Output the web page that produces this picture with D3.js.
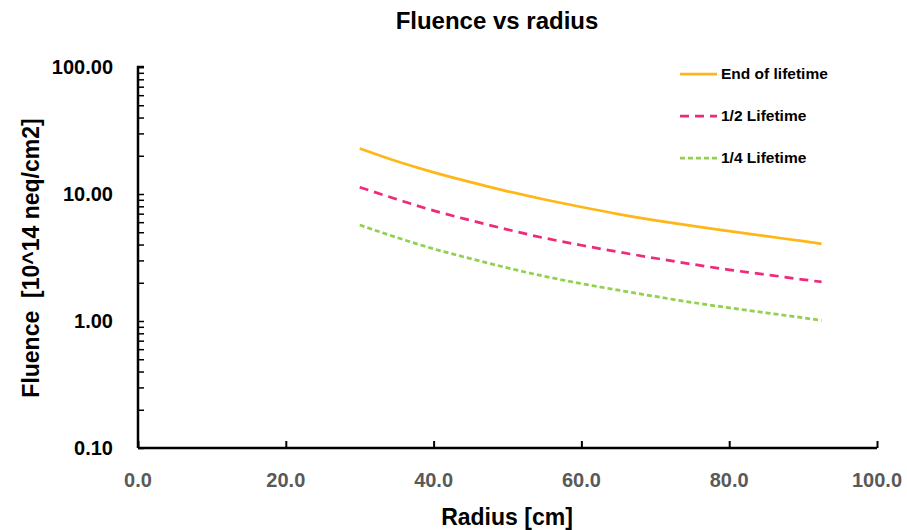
<!DOCTYPE html>
<html>
<head>
<meta charset="utf-8">
<script src="https://cdn.jsdelivr.net/npm/d3@7/dist/d3.min.js"></script>
<style>
  body { margin: 0; background: #fff; }
  text { font-family: "Liberation Sans", Arial, sans-serif; font-weight: bold; }
</style>
</head>
<body>
<svg id="chart" width="907" height="530"></svg>
<script>
// radius values (cm)
var radius = [30, 35, 40, 45, 50, 55, 60, 65, 70, 75, 80, 85, 90, 92.5];
// fluence [10^14 neq/cm2]
var endOfLife = [22.8, 18.1, 14.8, 12.4, 10.5, 9.05, 7.9, 6.95, 6.2, 5.6, 5.1, 4.65, 4.25, 4.05];
var halfLife = [11.3, 9.1, 7.4, 6.2, 5.25, 4.5, 3.95, 3.5, 3.12, 2.8, 2.53, 2.32, 2.12, 2.03];
var quarterLife = [5.7, 4.55, 3.7, 3.1, 2.62, 2.25, 1.97, 1.75, 1.56, 1.4, 1.27, 1.16, 1.06, 1.01];

var seriesNames = ["End of lifetime", "1/2 Lifetime", "1/4 Lifetime"];
var xTicks = [0, 20, 40, 60, 80, 100];
var yTicks = [0.1, 1, 10, 100];

var series = [
  { name: seriesNames[0], values: endOfLife, color: "#FFB619", dash: null },
  { name: seriesNames[1], values: halfLife, color: "#EE2A7B", dash: "9,6" },
  { name: seriesNames[2], values: quarterLife, color: "#92D050", dash: "5,3" }
];

var svg = d3.select("#chart");

// plot area (don't use "top", it is window.top)
var plotLeft = 138, plotRight = 877, plotTop = 67, plotBottom = 448;

var x = d3.scaleLinear().domain([0, 100]).range([plotLeft, plotRight]);
var y = d3.scaleLog().domain([0.1, 100]).range([plotBottom, plotTop]);

// title
svg.append("text")
  .attr("x", 497).attr("y", 29)
  .attr("text-anchor", "middle")
  .style("font-size", "24px")
  .text("Fluence vs radius");

// y axis: ticks inside, minor log ticks too
var minor = [];
[0.1, 1, 10].forEach(function(d) {
  for (var k = 2; k <= 9; k++) minor.push(d * k);
});

var yAxis = svg.append("g")
  .attr("transform", "translate(" + plotLeft + ",0)")
  .call(d3.axisRight(y).tickValues(yTicks.concat(minor)).tickSize(6).tickFormat(""));
yAxis.select(".domain").attr("d", "M0," + plotBottom + "V" + plotTop + "h6");
yAxis.selectAll("line").attr("stroke", "#000").attr("stroke-width", 1.5);
yAxis.select(".domain").attr("stroke", "#000").attr("stroke-width", 2.5);

// y tick labels
svg.append("g").selectAll("text")
  .data(yTicks)
  .enter()
  .append("text")
  .attr("x", 113)
  .attr("y", function(d) { return y(d); })
  .attr("dy", "0.35em")
  .attr("text-anchor", "end")
  .style("font-size", "20px")
  .attr("fill", "#000")
  .text(function(d) { return d3.format(".2f")(d); });

// x axis: ticks pointing up
var xAxis = svg.append("g")
  .attr("transform", "translate(0," + plotBottom + ")")
  .call(d3.axisTop(x).tickValues(xTicks).tickSize(7).tickFormat(""));
xAxis.select(".domain").attr("d", "M" + plotLeft + ",0H" + plotRight);
xAxis.select(".domain").attr("stroke", "#000").attr("stroke-width", 2.5);
xAxis.selectAll("line").attr("stroke", "#000").attr("stroke-width", 2);

svg.append("g").selectAll("text")
  .data(xTicks)
  .enter()
  .append("text")
  .attr("x", function(d) { return x(d); })
  .attr("y", 487)
  .attr("text-anchor", "middle")
  .style("font-size", "20px")
  .attr("fill", "#595959")
  .text(function(d) { return d3.format(".1f")(d); });

// axis titles
svg.append("text")
  .attr("x", 507).attr("y", 525)
  .attr("text-anchor", "middle")
  .style("font-size", "23px")
  .text("Radius [cm]");

svg.append("text")
  .attr("transform", "translate(39,258) rotate(-90)")
  .attr("text-anchor", "middle")
  .style("font-size", "23px")
  .style("white-space", "pre")
  .text("Fluence  [10^14 neq/cm2]");

// curves
var line = d3.line()
  .x(function(d, i) { return x(radius[i]); })
  .y(function(d) { return y(d); })
  .curve(d3.curveMonotoneX);

svg.append("g").selectAll("path")
  .data(series)
  .enter()
  .append("path")
  .attr("d", function(s) { return line(s.values); })
  .attr("fill", "none")
  .attr("stroke", function(s) { return s.color; })
  .attr("stroke-width", 2.75)
  .attr("stroke-dasharray", function(s) { return s.dash; });

// legend
var legend = svg.append("g")
  .selectAll("g")
  .data(series)
  .enter()
  .append("g")
  .attr("transform", function(d, i) { return "translate(680," + (74 + i * 42) + ")"; });

legend.append("line")
  .attr("x1", 0).attr("x2", 37)
  .attr("stroke", function(s) { return s.color; })
  .attr("stroke-width", 2.75)
  .attr("stroke-dasharray", function(s) { return s.dash; });

legend.append("text")
  .attr("x", 41)
  .attr("dy", "0.35em")
  .style("font-size", "15.5px")
  .text(function(s) { return s.name; });
</script>
</body>
</html>
